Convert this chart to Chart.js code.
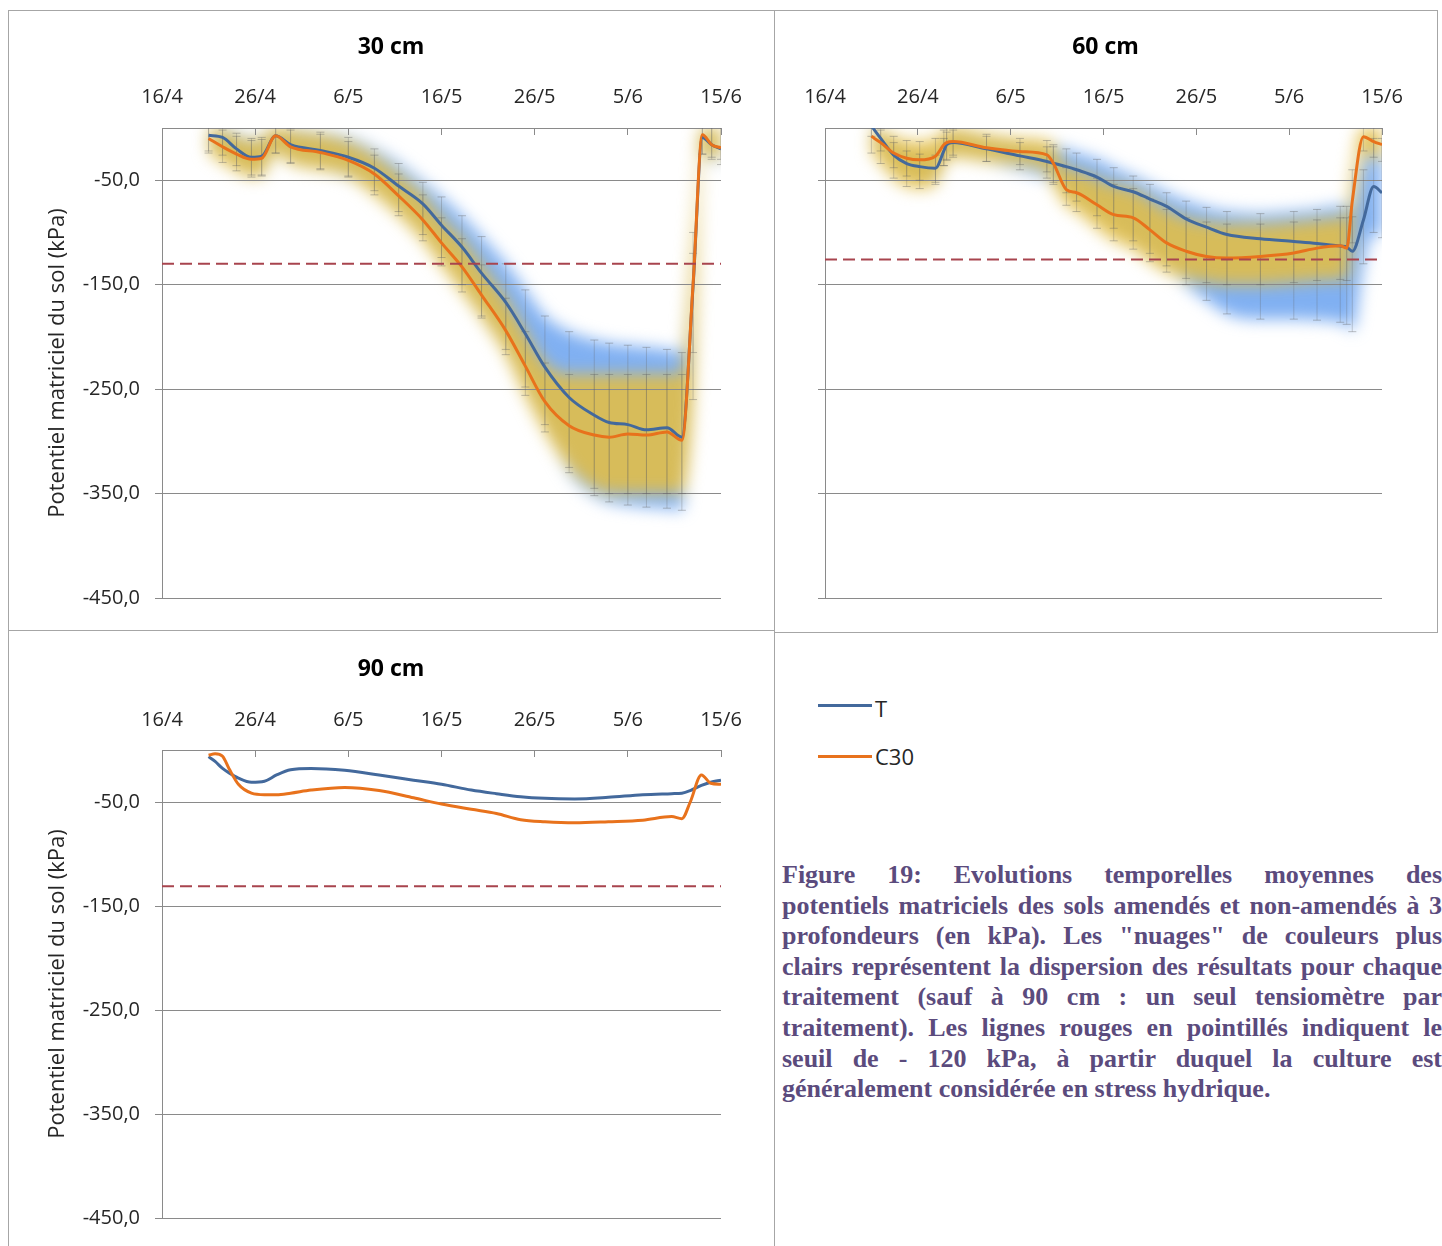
<!DOCTYPE html>
<html lang="fr">
<head>
<meta charset="utf-8">
<title>Figure 19 - potentiels matriciels</title>
<script src="https://cdn.jsdelivr.net/npm/chart.js@4.4.1/dist/chart.umd.min.js"></script>
<style>
  html, body { margin: 0; padding: 0; background: #fff; }
  body { position: relative; width: 1442px; height: 1246px; overflow: hidden; font-family: "Open Sans", sans-serif; }
  .frame { position: absolute; box-sizing: border-box; border: 1px solid #a6a6a6; }
  canvas { position: absolute; }
  .cloud { filter: blur(8px); }
  .key { position: absolute; left: 818px; width: 54px; height: 3px; }
  .keytxt { position: absolute; left: 875px; font-size: 22px; line-height: 26px; color: #262626; }
  #caption { position: absolute; left: 782px; top: 860px; width: 660px; font: bold 26px/30.6px "Liberation Serif", "Times New Roman", serif; color: #5b4b7d; }
  #caption div { text-align: justify; text-align-last: justify; }
  #caption div.last { text-align-last: left; }
</style>
</head>
<body>
<div class="frame" style="left:8px;top:10px;width:767px;height:621px"></div>
<div class="frame" style="left:774px;top:10px;width:664px;height:623px"></div>
<div class="frame" style="left:8px;top:630px;width:767px;height:640px"></div>

<canvas id="n30" class="cloud" width="766" height="620" style="left:8px;top:10px"></canvas>
<canvas id="c30" width="766" height="620" style="left:8px;top:10px"></canvas>
<canvas id="n60" class="cloud" width="663" height="622" style="left:774px;top:10px"></canvas>
<canvas id="c60" width="663" height="622" style="left:774px;top:10px"></canvas>
<canvas id="c90" width="766" height="616" style="left:8px;top:630px"></canvas>

<div class="key" style="top:703.5px;background:#43699c"></div>
<div class="keytxt" style="top:695px">T</div>
<div class="key" style="top:754.5px;background:#e8721c"></div>
<div class="keytxt" style="top:743px">C30</div>

<div id="caption">
  <div>Figure 19: Evolutions temporelles moyennes des</div>
  <div>potentiels matriciels des sols amendés et non-amendés à 3</div>
  <div>profondeurs (en kPa). Les "nuages" de couleurs plus</div>
  <div>clairs représentent la dispersion des résultats pour chaque</div>
  <div>traitement (sauf à 90 cm : un seul tensiomètre par</div>
  <div>traitement). Les lignes rouges en pointillés indiquent le</div>
  <div>seuil de - 120 kPa, à partir duquel la culture est</div>
  <div class="last">généralement considérée en stress hydrique.</div>
</div>

<script>
// axes (day 0 = 16/4)
const DAY_TICKS = [0, 10, 20, 30, 40, 50, 60];
const DAY_LABELS = ['16/4', '26/4', '6/5', '16/5', '26/5', '5/6', '15/6'];
const KPA_TICKS = [-450, -350, -250, -150, -50];

// 30 cm
const days30 = [5, 6.5, 8, 9.6, 10.7, 12.2, 13.8, 17, 20, 22.8, 25.4, 28, 30, 32.2, 34.3, 36.9, 39, 41.1, 43.7, 46.4, 48, 50, 52, 54.2, 55.8, 57, 58, 59, 60];
const t30 = [-7, -9, -20, -28, -27, -7.5, -16, -21.5, -28, -38.5, -55.6, -72.6, -93, -114, -139, -167, -197, -229, -258, -275, -282, -284, -289, -287, -296, -152, -9, -16, -20];
const c30 = [-10, -18, -25, -30, -29, -7.5, -18, -23.4, -31, -44, -65, -88, -110, -133, -160, -194, -228, -262, -285, -294, -296, -293, -294, -291, -299, -150, -6.4, -16, -19];
const t30Hi = [6, 2, -5, -10, -9, 6, 0, -4, -9, -20, -34, -52, -66, -84, -104, -130, -155, -180, -195, -203, -206, -208, -210, -212, -215, -120, 4, 4, 4];
const t30Lo = [-22, -26, -36, -45, -45, -24, -33, -39, -47, -60, -80, -102, -124, -150, -180, -212, -248, -284, -330, -352, -358, -361, -363, -364, -366, -215, -25, -30, -35];
const c30Hi = [4, -2, -8, -12, -11, 6, -2, -6, -13, -26, -44, -64, -86, -106, -131, -163, -195, -225, -236, -236, -236, -236, -236, -236, -236, -100, 4, 4, 4];
const c30Lo = [-24, -33, -41, -47, -46, -24, -34, -40, -46, -64, -84, -108, -132, -157, -182, -217, -256, -291, -325, -345, -350, -350, -350, -350, -350, -260, -25, -28, -30];
const seuil30 = -130;

// 60 cm
const days60 = [5, 6, 7.4, 8.8, 10.2, 11.9, 12.8, 13.1, 13.8, 17.4, 21, 23.9, 24.6, 26, 27.1, 29.3, 31.1, 33.2, 35, 36.8, 38.9, 41.1, 43.3, 46.9, 50.5, 53, 55.5, 56.2, 56.8, 58, 59.1, 60];
const t60 = [2, -10, -26, -34, -37, -38.5, -22, -16, -14, -20, -26.7, -32, -33.7, -37, -40, -47, -56, -61, -68, -75, -87, -95, -102, -106, -108.6, -110.5, -113, -114, -118, -88, -56, -62];
const c60 = [-8, -14, -24, -29, -30.5, -27, -16, -14, -13, -19, -22.6, -25.8, -33.7, -59, -62, -73.5, -83, -86, -97.5, -110, -118, -123, -124.5, -123, -119.7, -115, -112.7, -115, -70, -8.3, -13, -16];
const t60Hi = [10, 0, -14, -22, -25, -26, -10, -4, -2, -8, -14, -18, -18, -20, -24, -30, -38, -46, -54, -62, -70, -76, -80, -82, -80, -78, -75, -75, -85, -40, -10, -10];
const t60Lo = [-8, -22, -38, -46, -50, -52, -36, -30, -26, -32, -40, -48, -52, -62, -70, -84, -96, -108, -120, -132, -150, -165, -178, -183, -183, -184, -186, -188, -195, -130, -100, -105];
const c60Hi = [4, -2, -8, -12, -13, -10, -2, 0, 0, -6, -10, -12, -16, -38, -40, -48, -54, -58, -68, -78, -86, -90, -92, -92, -90, -88, -86, -86, -40, 4, 4, 4];
const c60Lo = [-24, -34, -48, -56, -58, -54, -36, -31, -28, -32, -35, -42, -54, -74, -80, -96, -108, -116, -128, -138, -144, -148, -150, -150, -148, -146, -145, -146, -110, -22, -28, -32];
const seuil60 = -126;

// 90 cm (un seul tensiometre, pas de nuage)
const days90 = [5, 5.7, 6.5, 7.2, 8.2, 9.6, 11, 12.3, 13.8, 16, 19.6, 23.3, 27, 30, 33.2, 35.9, 38.5, 41.1, 44.3, 47.9, 51.6, 54.7, 55.8, 56.7, 57.9, 58.9, 60];
const t90 = [-6.4, -11, -17.7, -22, -27, -31, -30, -24, -19, -17.7, -19.5, -24, -29, -33, -38.5, -42, -45, -46.5, -47, -45.5, -43, -42, -41.5, -39, -34, -31, -29];
const c90 = [-5, -3.5, -6, -18, -33, -41.5, -43, -43, -41.5, -38.5, -36, -39, -46, -52, -57, -61, -67, -69, -70, -69, -67.5, -64, -66, -50, -24, -32, -33];
const seuil90 = -131;

const FONT = '"Open Sans", sans-serif';
const BLUE = '#43699c';
const ORANGE = '#e8721c';
const GRID = '#8a8a8a';
const INK = '#262626';
const SKY = 'rgba(110,165,240,0.88)';
const GOLD = 'rgba(228,190,70,0.88)';

const panels = [
  { id: '30', title: '30 cm', w: 766, h: 620, area: [154, 118, 713, 588], titleTop: 24, xPad: 26, yLabels: true,
    days: days30, t: t30, c: c30, tHi: t30Hi, tLo: t30Lo, cHi: c30Hi, cLo: c30Lo, seuil: seuil30 },
  { id: '60', title: '60 cm', w: 663, h: 622, area: [51, 118, 608, 588], titleTop: 24, xPad: 26, yLabels: false,
    days: days60, t: t60, c: c60, tHi: t60Hi, tLo: t60Lo, cHi: c60Hi, cLo: c60Lo, seuil: seuil60 },
  { id: '90', title: '90 cm', w: 766, h: 616, area: [154, 120, 713, 588], titleTop: 26, xPad: 25, yLabels: true,
    days: days90, t: t90, c: c90, seuil: seuil90 },
];

const pts = (days, vals) => days.map((d, i) => ({ x: d, y: vals[i] }));

const whiskerSet = (days, lo, hi, order) => {
  const data = [];
  days.forEach((d, i) => data.push({ x: d, y: lo[i] }, { x: d, y: hi[i] }, { x: d, y: null }));
  return {
    data, order, tension: 0,
    borderColor: 'rgba(96,96,96,0.28)', borderWidth: 1,
    pointStyle: 'line', pointRadius: 4, pointBorderWidth: 1,
    pointBorderColor: 'rgba(96,96,96,0.38)', pointBackgroundColor: 'rgba(0,0,0,0)',
  };
};

const band = (days, vals, color, fill, order) => ({
  data: pts(days, vals), fill, order, backgroundColor: color,
  borderColor: 'rgba(0,0,0,0)', pointRadius: 0, cubicInterpolationMode: 'monotone',
});

const drawPanel = (p) => {
  const [left, top, right, bottom] = p.area;
  const titleH = p.titleTop + 23 * 1.2;
  const line = { pointRadius: 0, borderWidth: 3, cubicInterpolationMode: 'monotone', fill: false };

  const datasets = [
    { data: [{ x: 0, y: p.seuil }, { x: 60, y: p.seuil }], borderColor: '#a8444e', borderWidth: 2, borderDash: [12, 6], pointRadius: 0, order: 0 },
    { label: 'C30', data: pts(p.days, p.c), borderColor: ORANGE, ...line, order: 1 },
    { label: 'T', data: pts(p.days, p.t), borderColor: BLUE, ...line, order: 2 },
  ];
  if (p.cHi) {
    datasets.push(whiskerSet(p.days, p.cLo, p.cHi, 3), whiskerSet(p.days, p.tLo, p.tHi, 4));
  }

  new Chart(document.getElementById('c' + p.id), {
    type: 'line',
    data: { datasets },
    options: {
      responsive: false, animation: false, events: [],
      layout: { padding: { left: 0, top: 0, right: 0, bottom: p.h - bottom } },
      plugins: {
        legend: { display: false },
        tooltip: { enabled: false },
        title: {
          display: true, text: p.title, color: '#000',
          font: { family: FONT, size: 23, weight: 'bold' },
          padding: { top: p.titleTop, bottom: 0 },
        },
      },
      scales: {
        x: {
          type: 'linear', position: 'top', min: 0, max: 60, offset: false,
          afterBuildTicks: (s) => { s.ticks = DAY_TICKS.map((v) => ({ value: v })); },
          afterFit: (s) => { s.height = top - titleH; },
          ticks: {
            callback: (v, i) => DAY_LABELS[i], padding: p.xPad, color: INK,
            font: { family: FONT, size: 20 }, maxRotation: 0, autoSkip: false,
          },
          grid: { drawOnChartArea: false, tickLength: -7, color: GRID, offset: false },
          border: { color: GRID },
        },
        y: {
          min: -450, max: 0,
          afterBuildTicks: (s) => { s.ticks = KPA_TICKS.map((v) => ({ value: v })); },
          afterFit: (s) => { s.width = left; },
          ticks: {
            display: p.yLabels, padding: 15, color: INK,
            font: { family: FONT, size: 20 },
            callback: (v) => v.toFixed(1).replace('.', ','),
          },
          grid: { color: GRID, tickLength: 7 },
          border: { color: GRID },
          title: {
            display: p.yLabels, text: 'Potentiel matriciel du sol (kPa)', color: INK,
            font: { family: FONT, size: 22 }, padding: { top: 37, bottom: 0 },
          },
        },
        // empty right margin, so the title stays centred on the whole frame
        spacer: {
          type: 'linear', position: 'right', display: true,
          ticks: { display: false }, grid: { display: false }, border: { display: false },
          afterFit: (s) => { s.width = p.w - right; },
        },
      },
    },
  });

  if (!p.cHi) return;

  // "nuages": bands drawn on a canvas underneath, blurred by css then clipped to the plot
  const cv = document.getElementById('n' + p.id);
  new Chart(cv, {
    type: 'line',
    data: {
      datasets: [
        band(p.days, p.cHi, GOLD, '+1', 1), band(p.days, p.cLo, GOLD, false, 1),
        band(p.days, p.tHi, SKY, '+1', 2), band(p.days, p.tLo, SKY, false, 2),
      ],
    },
    options: {
      responsive: false, animation: false, events: [],
      layout: { padding: { left, top, right: p.w - right, bottom: p.h - bottom } },
      plugins: { legend: { display: false }, tooltip: { enabled: false }, title: { display: false } },
      scales: {
        x: { type: 'linear', min: 0, max: 60, display: false },
        y: { min: -450, max: 0, display: false },
      },
    },
  });
  cv.style.clipPath = `inset(${top}px ${p.w - right}px ${p.h - bottom}px ${left}px)`;
};

panels.forEach(drawPanel);
</script>
</body>
</html>
